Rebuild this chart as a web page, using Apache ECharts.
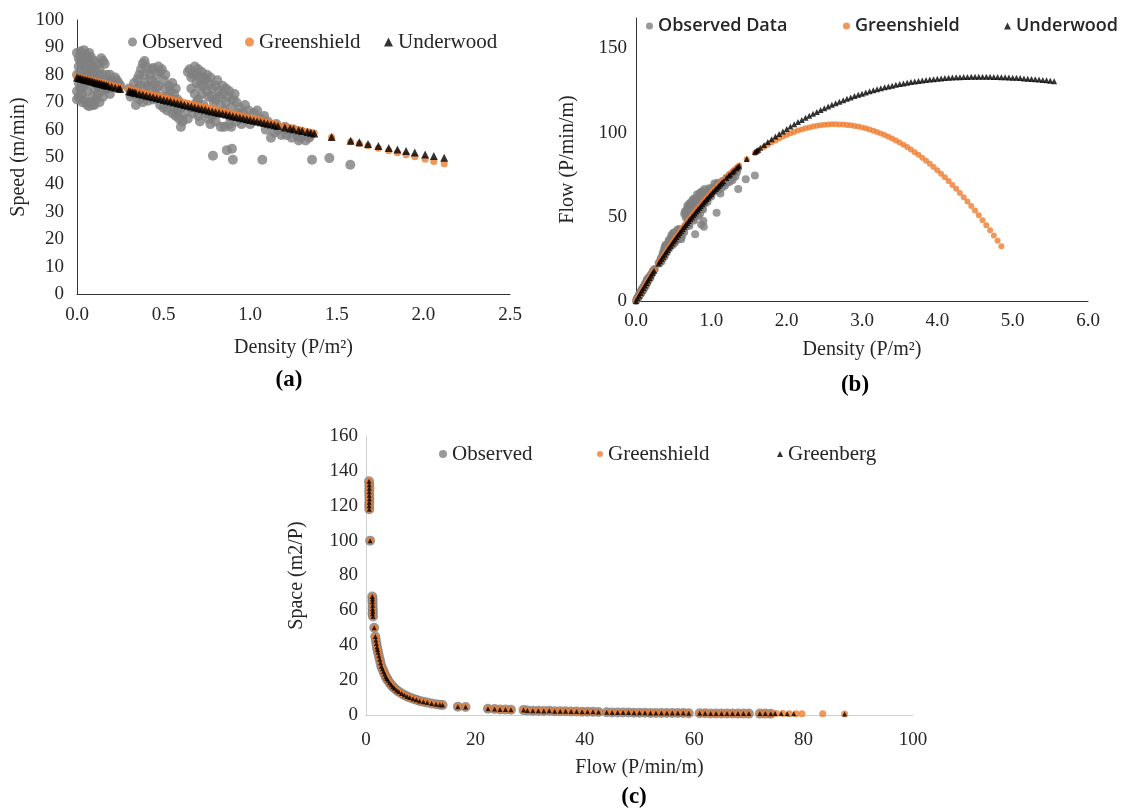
<!DOCTYPE html>
<html>
<head>
<meta charset="utf-8">
<script src="https://cdn.jsdelivr.net/npm/echarts@6/dist/echarts.min.js"></script>
<style>
html,body{margin:0;padding:0;background:#fff;}
#chart{width:1148px;height:810px;}
</style>
</head>
<body>
<div id="chart"></div>
<script>
// ---------- (a) Speed vs density ----------
const observedSpeedA = [
[0.00,88],[0.01,86],[0.02,88.5],[0.03,87],[0.04,89],[0.05,87.5],[0.06,86],[0.07,88],[0.08,86.5],
[0.01,83],[0.02,81],[0.03,84],[0.05,82],[0.07,84],[0.09,83],[0.10,85],[0.12,84],[0.14,86],[0.15,85],[0.16,84],[0.13,82],[0.11,81],
[0.00,80],[0.01,77],[0.02,75],[0.03,73],[0.04,71],[0.05,70],[0.06,69],[0.07,68.5],[0.08,70],[0.09,72],[0.10,69],[0.11,71],[0.12,73],[0.13,70],
[0.14,74],[0.15,76],[0.16,78],[0.17,80],[0.18,77],[0.19,73],[0.18,75],[0.04,76],[0.06,74],[0.08,78],[0.09,80],[0.10,75],[0.12,79],[0.14,80],
[0.00,74],[0.00,71],[0.01,72],[0.03,79],[0.05,77],[0.06,82],[0.07,79],[0.11,77],[0.13,76],[0.20,78],[0.22,79],[0.23,78],[0.24,77],[0.25,76],[0.21,76],[0.19,80],
[0.02,85],[0.04,84],[0.06,79],[0.08,82],[0.10,79],[0.12,76],[0.15,72],[0.17,75],[0.03,70],[0.09,69],
[0.30,75],[0.31,72],[0.32,74],[0.33,77],[0.34,69],[0.35,78.5],[0.36,80],[0.37,76],[0.38,84],[0.39,85],[0.40,83],[0.40,73],[0.41,70.5],[0.42,80],
[0.43,78],[0.44,82.5],[0.45,77],[0.46,80],[0.47,83],[0.48,81],[0.49,82],[0.50,78],[0.46,75],[0.44,71],[0.48,69],[0.50,68],[0.52,67],[0.53,76],
[0.54,74],[0.55,77],[0.56,73],[0.57,75],[0.58,71],[0.59,70],[0.55,66],[0.57,65],[0.59,64],[0.60,61],[0.52,72],[0.42,75],[0.36,71],[0.38,70],
[0.60,68],[0.62,66],[0.64,64],
[0.33,73],[0.35,75],[0.37,72],[0.39,77],[0.39,80],[0.41,76],[0.43,82],[0.45,73],[0.47,76],[0.49,72],[0.51,75],[0.51,80],[0.53,70],[0.55,71],
[0.56,68],[0.58,67],[0.61,63],[0.37,82],
[0.64,81],[0.65,82],[0.67,80],[0.68,83],[0.70,82],[0.72,81],[0.71,79],[0.69,77],[0.73,76],[0.74,78],[0.75,80],[0.76,77],[0.78,75],[0.80,76],
[0.82,74],[0.84,73],[0.86,75],[0.88,74],[0.90,71],[0.66,75],[0.68,73],[0.70,71],[0.72,73],[0.76,72],[0.79,70],[0.80,71],[0.83,69],[0.86,70],
[0.89,68],[0.92,70],[0.94,68],[0.96,66],[0.98,64],[1.00,62],[1.02,66],[1.04,67],[0.66,68],[0.70,65],[0.71,63],[0.74,66],[0.76,64],[0.77,62],
[0.80,63],[0.83,61],[0.85,61],[0.88,62],[0.89,61],[0.92,63],[0.95,62],[0.73,69],
[0.66,79],[0.69,80],[0.71,76],[0.73,79],[0.75,74],[0.77,79],[0.78,72],[0.81,78],[0.82,72],[0.84,76],[0.85,67],[0.87,72],[0.88,65],[0.91,73],
[0.93,66],[0.97,69],[0.99,67],[0.67,66],[0.72,67],[0.78,65],[0.81,66],[0.69,70],
[1.06,64],[1.08,65],[1.10,63],[1.12,57],[1.14,59],[1.16,60],[1.18,58],[1.21,58],[1.24,57],[1.25,60],[1.27,58],[1.29,57],[1.32,56],[1.34,57],
[1.35,58],[1.30,59],[1.20,61],[1.09,60],[1.15,62],[1.22,60],[1.28,56],
[0.785,50.5],[0.865,52.5],[0.895,53],[0.90,49],[1.07,49],[1.357,49],[1.457,49.6],[1.578,47.2]
];
const modelDensityA = [0.00,0.01,0.02,0.03,0.04,0.05,0.06,0.07,0.08,0.09,0.10,0.11,0.12,0.13,0.14,0.15,0.16,0.17,0.18,
0.20,0.22,0.24,0.25,0.30,0.31,0.32,0.33,0.34,
0.36,0.38,0.40,0.42,0.44,0.46,0.48,0.50,0.52,0.54,0.56,0.58,0.60,0.62,0.64,0.66,0.68,0.70,0.72,0.74,0.76,0.78,0.80,
0.82,0.84,0.86,0.88,0.90,0.92,0.94,0.96,0.98,1.00,1.02,1.04,1.06,1.08,1.10,1.12,1.14,1.16,
1.20,1.23,1.25,1.28,1.30,1.33,1.35,1.37,
1.47,1.58,1.63,1.68,1.74,1.80,1.85,1.90,1.95,2.01,2.06,2.12];
const greenshieldSpeedA = [79.20,79.05,78.90,78.75,78.60,78.45,78.30,78.15,78.00,77.85,77.71,77.56,77.41,77.26,77.11,76.96,76.81,76.66,76.51,
76.21,75.91,75.61,75.46,74.72,74.57,74.42,74.27,74.12,
73.82,73.52,73.22,72.92,72.62,72.32,72.02,71.73,71.43,71.13,70.83,70.53,70.23,69.93,69.63,69.33,69.03,68.74,68.44,68.14,67.84,67.54,67.24,
66.94,66.64,66.34,66.04,65.75,65.45,65.15,64.85,64.55,64.25,63.95,63.65,63.35,63.05,62.76,62.46,62.16,61.86,
61.26,60.81,60.51,60.06,59.77,59.32,59.02,58.72,
57.22,55.58,54.83,54.08,53.19,52.29,51.54,50.80,50.05,49.15,48.40,47.51];
const underwoodSpeedA = [79.00,78.83,78.66,78.48,78.31,78.14,77.97,77.80,77.63,77.46,77.29,77.12,76.96,76.79,76.62,76.45,76.29,76.12,75.96,
75.63,75.30,74.97,74.81,73.99,73.83,73.67,73.51,73.35,
73.03,72.71,72.39,72.08,71.77,71.46,71.14,70.83,70.52,70.22,69.91,69.61,69.30,69.00,68.70,68.40,68.10,67.80,67.51,67.22,66.92,66.63,66.34,
66.05,65.77,65.48,65.20,64.91,64.63,64.35,64.07,63.79,63.50,63.23,62.95,62.68,62.40,62.13,61.86,61.59,61.32,
60.79,60.39,60.13,59.74,59.48,59.09,58.84,58.58,
57.33,55.97,55.37,54.77,54.06,53.33,52.75,52.17,51.60,50.93,50.38,49.72];

// ---------- (b) Flow vs density ----------
const observedFlowB = [
[0.00,0],[0.01,0.86],[0.02,1.77],[0.03,2.61],[0.04,3.56],[0.05,4.38],[0.06,5.16],[0.07,6.16],[0.08,6.92],[0.01,0.83],[0.02,1.62],[0.03,2.52],
[0.05,4.1],[0.07,5.88],[0.09,7.47],[0.10,8.5],[0.12,10.08],[0.14,12.04],[0.15,12.75],[0.16,13.44],[0.13,10.66],[0.11,8.91],[0.02,1.5],[0.03,2.19],
[0.04,2.84],[0.05,3.5],[0.06,4.14],[0.07,4.8],[0.08,5.6],[0.09,6.48],[0.10,6.9],[0.11,7.81],[0.12,8.76],[0.13,9.1],[0.14,10.36],[0.15,11.4],
[0.16,12.48],[0.17,13.6],[0.18,13.86],[0.19,13.87],[0.18,13.5],[0.04,3.04],[0.06,4.44],[0.08,6.24],[0.10,7.5],[0.12,9.48],[0.14,11.2],[0.20,15.6],
[0.22,17.38],[0.23,17.94],[0.24,18.48],[0.25,19],[0.21,15.96],[0.19,15.2],
[0.02,1.7],[0.04,3.36],[0.06,4.74],[0.08,6.56],[0.10,7.9],[0.12,9.12],[0.15,10.8],[0.17,12.75],[0.03,2.1],[0.09,6.21],
[0.30,22.5],[0.31,22.32],[0.32,23.68],[0.33,25.41],[0.34,23.46],[0.35,27.48],[0.36,28.8],[0.37,28.12],[0.38,31.92],[0.39,33.15],[0.40,33.2],
[0.40,29.2],[0.41,28.91],[0.42,33.6],[0.43,33.54],[0.44,36.3],[0.45,34.65],[0.46,36.8],[0.47,39.01],[0.48,38.88],[0.49,40.18],[0.50,39],
[0.46,34.5],[0.44,31.24],[0.48,33.12],[0.50,34],[0.52,34.84],[0.53,40.28],[0.54,39.96],[0.55,42.35],[0.56,40.88],[0.57,42.75],[0.58,41.18],
[0.59,41.3],[0.55,36.3],[0.57,37.05],[0.59,37.76],[0.60,36.6],[0.52,37.44],[0.42,31.5],[0.36,25.56],[0.38,26.6],[0.60,40.8],[0.62,40.92],[0.64,40.96],
[0.33,24.09],[0.35,26.25],[0.37,26.64],[0.39,30.03],[0.39,31.2],[0.41,31.16],[0.43,35.26],[0.45,32.85],[0.47,35.72],[0.49,35.28],[0.51,38.25],
[0.51,40.8],[0.53,37.1],[0.55,39.05],[0.56,38.08],[0.58,38.86],[0.61,38.43],[0.37,30.34],
[0.64,51.84],[0.65,53.3],[0.67,53.6],[0.68,56.44],[0.70,57.4],[0.72,58.32],[0.71,56.09],[0.69,53.13],[0.73,55.48],[0.74,57.72],[0.75,60],
[0.76,58.52],[0.78,58.5],[0.80,60.8],[0.82,60.68],[0.84,61.32],[0.86,64.5],[0.88,65.12],[0.90,63.9],[0.66,49.5],[0.68,49.64],[0.70,49.7],
[0.72,52.56],[0.76,54.72],[0.79,55.3],[0.80,56.8],[0.83,57.27],[0.86,60.2],[0.89,60.52],[0.92,64.4],[0.94,63.92],[0.96,63.36],[0.98,62.72],
[1.00,62],[1.02,67.32],[1.04,69.68],[0.66,44.88],[0.70,45.5],[0.71,44.73],[0.74,48.84],[0.76,48.64],[0.77,47.74],[0.80,50.4],[0.83,50.63],
[0.85,51.85],[0.88,54.56],[0.89,54.29],[0.92,57.96],[0.95,58.9],[0.73,50.37],
[0.66,52.14],[0.69,55.2],[0.71,53.96],[0.73,57.67],[0.75,55.5],[0.77,60.83],[0.78,56.16],[0.81,63.18],[0.82,59.04],[0.84,63.84],[0.85,56.95],
[0.87,62.64],[0.88,57.2],[0.91,66.43],[0.93,61.38],[0.97,66.93],[0.99,66.33],[0.67,44.22],[0.72,48.24],[0.78,50.7],[0.81,53.46],[0.69,48.3],
[1.06,67.84],[1.08,70.2],[1.10,69.3],[1.12,63.84],[1.14,67.26],[1.16,69.6],[1.18,68.44],[1.21,70.18],[1.24,70.68],[1.25,75],[1.27,73.66],
[1.29,73.53],[1.32,73.92],[1.34,76.38],[1.35,78.3],[1.30,76.7],[1.20,73.2],[1.09,65.4],[1.15,71.3],[1.22,73.2],[1.28,71.68],
[0.785,39.64],[0.865,45.41],[0.895,47.44],[0.90,44.1],[1.07,52.43],[1.357,66.49],[1.457,72.27],[1.578,74.48]
];
const modelDensityB = [0.00,0.02,0.04,0.06,0.08,0.10,0.12,0.14,0.16,0.18,0.20,0.22,0.24,
0.30,0.32,0.34,0.36,0.38,0.40,0.42,0.44,0.46,0.48,0.50,0.52,0.54,0.56,0.58,0.60,0.62,0.64,0.66,0.68,0.70,0.72,0.74,0.76,0.78,0.80,
0.82,0.84,0.86,0.88,0.90,0.92,0.94,0.96,0.98,1.00,1.02,1.04,1.06,1.08,1.10,1.12,1.14,1.16,
1.20,1.23,1.25,1.28,1.30,1.33,1.35,1.37,1.47,1.58,1.60,1.62];
const greenshieldFlowB = [0,1.58,3.14,4.70,6.24,7.77,9.29,10.80,12.29,13.77,15.24,16.70,18.15,
22.42,23.81,25.20,26.58,27.94,29.29,30.63,31.95,33.27,34.57,35.86,37.14,38.41,39.66,40.91,42.14,43.36,44.56,45.76,46.94,48.12,49.28,50.42,51.56,52.68,53.79,
54.89,55.98,57.05,58.12,59.18,60.21,61.24,62.26,63.26,64.25,65.23,66.20,67.15,68.09,69.04,69.96,70.86,71.76,
73.51,74.80,75.64,76.88,77.70,78.90,79.68,80.45,84.11,87.82,88.45,89.06];
const underwoodFlowB = [0,1.57,3.13,4.68,6.21,7.73,9.24,10.73,12.21,13.67,15.13,16.57,17.99,
22.20,23.57,24.94,26.29,27.63,28.96,30.27,31.58,32.87,34.15,35.41,36.67,37.92,39.15,40.37,41.58,42.78,43.97,45.14,46.31,47.46,48.61,49.74,50.86,51.97,53.07,
54.16,55.25,56.31,57.38,58.42,59.46,60.49,61.51,62.51,63.50,64.49,65.47,66.44,67.39,68.34,69.28,70.21,71.13,
72.95,74.28,75.16,76.47,77.32,78.59,79.43,80.25,84.28,88.43,89.13,89.86];
const greenshieldExtB = [
[1.70,91.43],[1.75,92.82],[1.80,94.12],[1.85,95.35],[1.90,96.51],[1.95,97.59],[2.00,98.60],[2.05,99.53],[2.10,100.39],[2.15,101.17],
[2.20,101.88],[2.25,102.52],[2.30,103.07],[2.35,103.56],[2.40,103.97],[2.45,104.30],[2.50,104.56],[2.55,104.75],[2.60,104.86],[2.65,104.89],
[2.70,104.85],[2.75,104.74],[2.80,104.55],[2.85,104.29],[2.90,103.95],[2.95,103.54],[3.00,103.05],[3.05,102.49],[3.10,101.85],[3.15,101.14],
[3.20,100.35],[3.25,99.49],[3.30,98.55],[3.35,97.54],[3.40,96.46],[3.45,95.30],[3.50,94.06],[3.55,92.75],[3.60,91.37],[3.65,89.91],
[3.70,88.37],[3.75,86.77],[3.80,85.08],[3.85,83.32],[3.90,81.49],[3.95,79.58],[4.00,77.60],[4.05,75.54],[4.10,73.41],[4.15,71.20],
[4.20,68.92],[4.25,66.57],[4.30,64.13],[4.35,61.63],[4.40,59.05],[4.45,56.39],[4.50,53.66],[4.55,50.86],[4.60,47.98],[4.65,45.02],
[4.70,41.99],[4.75,38.89],[4.80,35.71],[4.85,32.46]
];
const underwoodExtB = [
[1.65,90.93],[1.70,92.66],[1.75,94.34],[1.80,95.99],[1.85,97.59],[1.90,99.13],[1.95,100.62],[2.00,102.10],[2.05,103.52],[2.10,104.89],
[2.15,106.23],[2.20,107.51],[2.25,108.77],[2.30,109.97],[2.35,111.13],[2.40,112.27],[2.45,113.36],[2.50,114.42],[2.55,115.44],[2.60,116.43],
[2.65,117.37],[2.70,118.29],[2.75,119.16],[2.80,120.03],[2.85,120.84],[2.90,121.63],[2.95,122.37],[3.00,123.10],[3.05,123.77],[3.10,124.46],
[3.15,125.09],[3.20,125.70],[3.25,126.26],[3.30,126.83],[3.35,127.33],[3.40,127.85],[3.45,128.31],[3.50,128.77],[3.55,129.18],[3.60,129.59],
[3.65,129.98],[3.70,130.31],[3.75,130.65],[3.80,130.95],[3.85,131.25],[3.90,131.49],[3.95,131.69],[4.00,131.94],[4.05,132.15],[4.10,132.32],
[4.15,132.47],[4.20,132.62],[4.25,132.77],[4.30,132.85],[4.35,132.94],[4.40,133.00],[4.45,133.06],[4.50,133.09],[4.55,133.13],[4.60,133.11],
[4.65,133.13],[4.70,133.07],[4.75,133.00],[4.80,132.96],[4.85,132.89],[4.90,132.80],[4.95,132.71],[5.00,132.58],[5.05,132.46],[5.10,132.31],
[5.15,132.15],[5.20,131.99],[5.25,131.78],[5.30,131.63],[5.35,131.45],[5.40,131.22],[5.45,131.02],[5.50,130.75],[5.55,130.52]
];

// ---------- (c) Space vs flow ----------
const observedSpaceC = [
[0.55,134],[0.60,132],[0.62,130],[0.58,128],[0.60,126],[0.63,124],[0.60,122],[0.57,120],[0.60,118],
[0.75,100],
[1.15,68],[1.20,66.5],[1.18,65],[1.22,63],[1.20,61],[1.25,59.5],[1.20,58],[1.28,56.5],
[1.50,50],
[1.70,45],[1.80,43],[1.90,41],[2.00,39],[2.10,37.5],[2.20,36],[2.35,34],[2.50,32],[2.65,30],[2.80,28],[3.00,26.5],[3.20,25],[3.40,23.5],
[3.60,22],[3.80,21],[4.00,20],[4.30,18.5],[4.60,17.3],[4.90,16.2],[5.20,15.3],[5.60,14.2],[6.00,13.3],[6.50,12.3],[7.00,11.4],[7.50,10.6],
[8.00,10.0],[8.60,9.3],[9.20,8.7],[9.80,8.1],[10.5,7.6],[11.2,7.1],[12.0,6.6],[12.8,6.2],[13.5,5.9],[14.0,5.7],
[16.8,4.8],[18.2,4.6],[22.3,3.6],[23.5,3.4],[24.5,3.2],[25.5,3.1],[26.5,3.0],[28.8,2.8],[29.5,2.6],[30.5,2.5],[31.5,2.4],[32.5,2.3],
[33.5,2.5],[34.5,2.2],[35.5,2.1],[36.5,2.1],[37.5,2.0],[38.5,2.0],[39.5,1.9],[40.5,1.9],[41.5,1.8],[42.5,1.7],[44,1.6],[45,1.5],[46,1.5],
[47,1.4],[48,1.4],[49,1.3],[50,1.3],[51,1.3],[52,1.2],[53,1.2],[54,1.2],[55,1.1],[56,1.1],[57,1.1],[58,1.1],[59,1.0],[61,1.0],[62,1.0],
[63,0.9],[64,0.9],[65,0.9],[66,0.9],[67,0.9],[68,0.8],[69,0.8],[70,0.8],[72,0.8],[73,0.8],[74,0.7]
];
const greenshieldExtraC = [[75.0,0.8],[76.2,0.8],[77.4,0.75],[78.6,0.7],[79.7,0.7],[83.5,0.65],[87.5,0.6]];
const greenbergExtraC = [[74.8,0.8],[75.9,0.8],[77.0,0.75],[78.2,0.7],[87.5,0.6]];

// ---------- build ----------
const zip = (xs, ys) => xs.map((x, i) => [x, ys[i]]);
const GRAY = '#7f7f7f', ORANGE = '#ed7d31', BLACK = '#000000';
const SERIF = '"Liberation Serif","Times New Roman",serif';
const SANS = '"Open Sans","Noto Sans",sans-serif';

function axis(o) {
  return {
    type: 'value', gridIndex: o.grid, min: o.min, max: o.max, interval: o.interval,
    axisLine: { show: true, onZero: false, lineStyle: { color: o.lineColor, width: 1 } },
    axisTick: { show: false }, splitLine: { show: false },
    axisLabel: { fontFamily: SERIF, fontSize: 19, color: '#262626', margin: o.margin,
      formatter: o.fmt || (v => String(v)), showMaxLabel: o.showMax !== false },
    name: o.name, nameLocation: 'middle', nameGap: o.nameGap,
    nameTextStyle: { fontFamily: SERIF, fontSize: 20, color: '#262626' }
  };
}
function leg(name, left, cy, size, font, fontSize, weight) {
  const h = 24;
  return { data: [name], left: left, top: cy - h / 2, padding: 0, itemWidth: size, itemHeight: size,
    itemGap: 0, selectedMode: false,
    textStyle: { fontFamily: font, fontSize: fontSize, fontWeight: weight || 'normal', color: '#262626', lineHeight: h } };
}
const fmt1 = v => v.toFixed(1);

const option = {
  backgroundColor: '#ffffff',
  animation: false,
  grid: [
    { left: 77, top: 20, width: 433, height: 274, outerBoundsMode: 'none' },
    { left: 636, top: 18, width: 452, height: 283, outerBoundsMode: 'none' },
    { left: 366, top: 436, width: 547, height: 279, outerBoundsMode: 'none' }
  ],
  xAxis: [
    axis({ grid: 0, min: 0, max: 2.5, interval: 0.5, lineColor: '#333', margin: 12, fmt: fmt1, name: 'Density (P/m²)', nameGap: 44 }),
    axis({ grid: 1, min: 0, max: 6, interval: 1, lineColor: '#333', margin: 11, fmt: fmt1, name: 'Density (P/m²)', nameGap: 39 }),
    axis({ grid: 2, min: 0, max: 100, interval: 20, lineColor: '#d0d0d0', margin: 16, name: 'Flow (P/min/m)', nameGap: 43 })
  ],
  yAxis: [
    axis({ grid: 0, min: 0, max: 100, interval: 10, lineColor: '#333', margin: 13, name: 'Speed (m/min)', nameGap: 48 }),
    axis({ grid: 1, min: 0, max: 168, interval: 50, lineColor: '#333', margin: 9, showMax: false, name: 'Flow (P/min/m)', nameGap: 58 }),
    axis({ grid: 2, min: 0, max: 160, interval: 20, lineColor: '#d0d0d0', margin: 8, name: 'Space (m2/P)', nameGap: 59 })
  ],
  legend: [
    leg('Observed', 128, 42, 9, SERIF, 21),
    leg('Greenshield', 245, 42, 9, SERIF, 21),
    leg('Underwood', 384, 42, 9, SERIF, 21),
    leg('Observed Data', 646, 26, 7, SANS, 18, 600),
    leg('Greenshield', 843, 26, 7, SANS, 18, 600),
    leg('Underwood', 1004, 26, 7, SANS, 18, 600),
    leg('Observed', 439, 454, 8, SERIF, 21),
    leg('Greenshield', 597, 454, 6, SERIF, 21),
    leg('Greenberg', 777, 454, 6, SERIF, 21)
  ],
  series: [
    { name: 'Observed', type: 'scatter', xAxisIndex: 0, yAxisIndex: 0, symbol: 'circle', symbolSize: 10,
      itemStyle: { color: GRAY }, data: observedSpeedA },
    { name: 'Greenshield', type: 'scatter', xAxisIndex: 0, yAxisIndex: 0, symbol: 'circle', symbolSize: 7,
      itemStyle: { color: ORANGE }, data: zip(modelDensityA, greenshieldSpeedA) },
    { name: 'Underwood', type: 'scatter', xAxisIndex: 0, yAxisIndex: 0, symbol: 'triangle', symbolSize: 8,
      itemStyle: { color: BLACK }, data: zip(modelDensityA, underwoodSpeedA) },

    { name: 'Observed Data', type: 'scatter', xAxisIndex: 1, yAxisIndex: 1, symbol: 'circle', symbolSize: 8,
      itemStyle: { color: GRAY }, data: observedFlowB },
    { name: 'Greenshield', type: 'scatter', xAxisIndex: 1, yAxisIndex: 1, symbol: 'circle', symbolSize: 6,
      itemStyle: { color: ORANGE }, data: zip(modelDensityB, greenshieldFlowB).concat(greenshieldExtB) },
    { name: 'Underwood', type: 'scatter', xAxisIndex: 1, yAxisIndex: 1, symbol: 'triangle', symbolSize: 6,
      itemStyle: { color: BLACK }, data: zip(modelDensityB, underwoodFlowB).concat(underwoodExtB) },

    { name: 'Observed', type: 'scatter', xAxisIndex: 2, yAxisIndex: 2, symbol: 'circle', symbolSize: 10,
      itemStyle: { color: GRAY }, data: observedSpaceC },
    { name: 'Greenshield', type: 'scatter', xAxisIndex: 2, yAxisIndex: 2, symbol: 'circle', symbolSize: 7,
      itemStyle: { color: ORANGE }, data: observedSpaceC.concat(greenshieldExtraC) },
    { name: 'Greenberg', type: 'scatter', xAxisIndex: 2, yAxisIndex: 2, symbol: 'triangle', symbolSize: 5,
      itemStyle: { color: BLACK }, data: observedSpaceC.concat(greenbergExtraC) }
  ],
  graphic: [
    { type: 'text', x: 289, y: 380, style: { text: '(a)', fontFamily: SERIF, fontSize: 23, fontWeight: 'bold', fill: '#000', align: 'center', verticalAlign: 'middle' } },
    { type: 'text', x: 855, y: 385, style: { text: '(b)', fontFamily: SERIF, fontSize: 23, fontWeight: 'bold', fill: '#000', align: 'center', verticalAlign: 'middle' } },
    { type: 'text', x: 634, y: 797, style: { text: '(c)', fontFamily: SERIF, fontSize: 23, fontWeight: 'bold', fill: '#000', align: 'center', verticalAlign: 'middle' } }
  ]
};
const chart = echarts.init(document.getElementById('chart'), null, { renderer: 'canvas' });
chart.setOption(option);
</script>
</body>
</html>
